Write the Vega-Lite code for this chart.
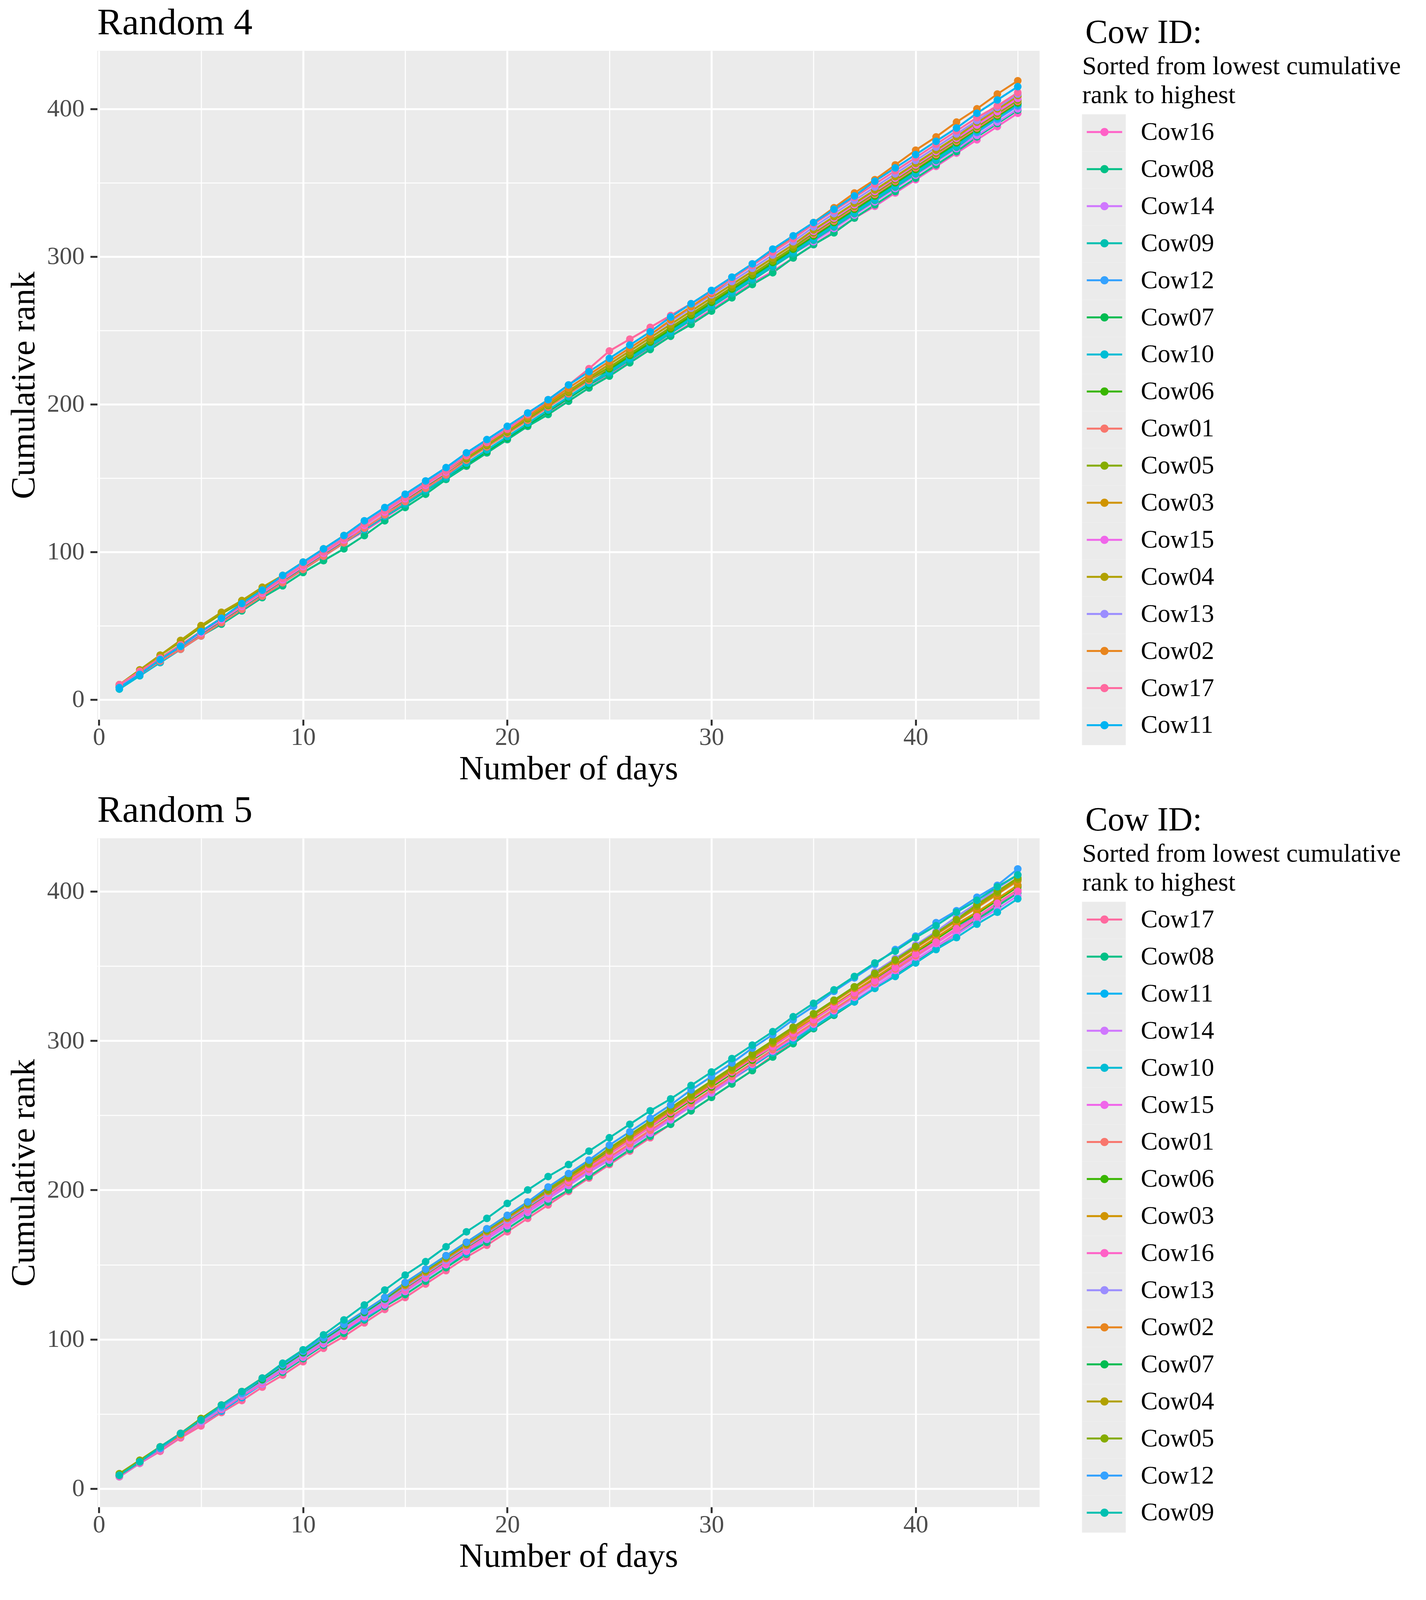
{
  "$schema": "https://vega.github.io/schema/vega-lite/v6.json",
  "description": "Cumulative rank of 17 cows over 45 days, two random orderings.",
  "background": "white",
  "padding": {"left": 17, "top": 11, "right": 0, "bottom": 30},
  "config": {
    "font": "Liberation Serif",
    "view": {"fill": "#EBEBEB", "stroke": null},
    "axis": {
      "domain": false, "gridColor": "#FFFFFF", "tickColor": "#333333", "tickSize": 18, "tickWidth": 5,
      "labelColor": "#4D4D4D", "labelFont": "Liberation Serif", "labelFontSize": 64,
      "titleFont": "Liberation Serif", "titleFontSize": 87, "titleFontWeight": "normal", "titleColor": "#000000"
    },
    "legend": {"padding": 0, "titleFont": "Liberation Serif", "labelFont": "Liberation Serif", "titleFontWeight": "normal", "titleColor": "#000000", "labelColor": "#000000"},
    "title": {"font": "Liberation Serif", "fontSize": 96, "fontWeight": "normal", "color": "#000000", "anchor": "start", "frame": "group", "offset": -66}
  },
  "spacing": 15,
  "resolve": {"scale": {"color": "independent", "fill": "independent"}, "legend": {"color": "independent", "fill": "independent"}},
  "datasets": {
    "r4": [
      {"c":"Cow16","d":1,"v":9},{"c":"Cow16","d":2,"v":18},{"c":"Cow16","d":3,"v":27},{"c":"Cow16","d":4,"v":35},{"c":"Cow16","d":5,"v":44},{"c":"Cow16","d":6,"v":53},{"c":"Cow16","d":7,"v":62},{"c":"Cow16","d":8,"v":70},{"c":"Cow16","d":9,"v":79},{"c":"Cow16","d":10,"v":88},{"c":"Cow16","d":11,"v":97},{"c":"Cow16","d":12,"v":106},{"c":"Cow16","d":13,"v":114},{"c":"Cow16","d":14,"v":123},{"c":"Cow16","d":15,"v":132},{"c":"Cow16","d":16,"v":141},{"c":"Cow16","d":17,"v":150},{"c":"Cow16","d":18,"v":158},{"c":"Cow16","d":19,"v":167},{"c":"Cow16","d":20,"v":176},{"c":"Cow16","d":21,"v":185},{"c":"Cow16","d":22,"v":194},{"c":"Cow16","d":23,"v":202},{"c":"Cow16","d":24,"v":211},{"c":"Cow16","d":25,"v":220},{"c":"Cow16","d":26,"v":229},{"c":"Cow16","d":27,"v":238},{"c":"Cow16","d":28,"v":246},{"c":"Cow16","d":29,"v":255},{"c":"Cow16","d":30,"v":264},{"c":"Cow16","d":31,"v":273},{"c":"Cow16","d":32,"v":282},{"c":"Cow16","d":33,"v":290},{"c":"Cow16","d":34,"v":299},{"c":"Cow16","d":35,"v":308},{"c":"Cow16","d":36,"v":317},{"c":"Cow16","d":37,"v":326},{"c":"Cow16","d":38,"v":334},{"c":"Cow16","d":39,"v":343},{"c":"Cow16","d":40,"v":352},{"c":"Cow16","d":41,"v":361},{"c":"Cow16","d":42,"v":370},{"c":"Cow16","d":43,"v":379},{"c":"Cow16","d":44,"v":388},{"c":"Cow16","d":45,"v":397},
      {"c":"Cow08","d":1,"v":8},{"c":"Cow08","d":2,"v":17},{"c":"Cow08","d":3,"v":25},{"c":"Cow08","d":4,"v":34},{"c":"Cow08","d":5,"v":43},{"c":"Cow08","d":6,"v":51},{"c":"Cow08","d":7,"v":60},{"c":"Cow08","d":8,"v":69},{"c":"Cow08","d":9,"v":77},{"c":"Cow08","d":10,"v":86},{"c":"Cow08","d":11,"v":94},{"c":"Cow08","d":12,"v":102},{"c":"Cow08","d":13,"v":111},{"c":"Cow08","d":14,"v":121},{"c":"Cow08","d":15,"v":130},{"c":"Cow08","d":16,"v":139},{"c":"Cow08","d":17,"v":149},{"c":"Cow08","d":18,"v":158},{"c":"Cow08","d":19,"v":167},{"c":"Cow08","d":20,"v":176},{"c":"Cow08","d":21,"v":185},{"c":"Cow08","d":22,"v":193},{"c":"Cow08","d":23,"v":202},{"c":"Cow08","d":24,"v":211},{"c":"Cow08","d":25,"v":219},{"c":"Cow08","d":26,"v":228},{"c":"Cow08","d":27,"v":237},{"c":"Cow08","d":28,"v":246},{"c":"Cow08","d":29,"v":254},{"c":"Cow08","d":30,"v":263},{"c":"Cow08","d":31,"v":272},{"c":"Cow08","d":32,"v":281},{"c":"Cow08","d":33,"v":289},{"c":"Cow08","d":34,"v":299},{"c":"Cow08","d":35,"v":308},{"c":"Cow08","d":36,"v":316},{"c":"Cow08","d":37,"v":326},{"c":"Cow08","d":38,"v":335},{"c":"Cow08","d":39,"v":344},{"c":"Cow08","d":40,"v":353},{"c":"Cow08","d":41,"v":362},{"c":"Cow08","d":42,"v":371},{"c":"Cow08","d":43,"v":381},{"c":"Cow08","d":44,"v":390},{"c":"Cow08","d":45,"v":399},
      {"c":"Cow14","d":1,"v":9},{"c":"Cow14","d":2,"v":18},{"c":"Cow14","d":3,"v":27},{"c":"Cow14","d":4,"v":36},{"c":"Cow14","d":5,"v":45},{"c":"Cow14","d":6,"v":54},{"c":"Cow14","d":7,"v":63},{"c":"Cow14","d":8,"v":72},{"c":"Cow14","d":9,"v":81},{"c":"Cow14","d":10,"v":90},{"c":"Cow14","d":11,"v":99},{"c":"Cow14","d":12,"v":108},{"c":"Cow14","d":13,"v":116},{"c":"Cow14","d":14,"v":125},{"c":"Cow14","d":15,"v":134},{"c":"Cow14","d":16,"v":143},{"c":"Cow14","d":17,"v":152},{"c":"Cow14","d":18,"v":160},{"c":"Cow14","d":19,"v":169},{"c":"Cow14","d":20,"v":178},{"c":"Cow14","d":21,"v":187},{"c":"Cow14","d":22,"v":196},{"c":"Cow14","d":23,"v":204},{"c":"Cow14","d":24,"v":213},{"c":"Cow14","d":25,"v":222},{"c":"Cow14","d":26,"v":231},{"c":"Cow14","d":27,"v":240},{"c":"Cow14","d":28,"v":248},{"c":"Cow14","d":29,"v":257},{"c":"Cow14","d":30,"v":266},{"c":"Cow14","d":31,"v":275},{"c":"Cow14","d":32,"v":284},{"c":"Cow14","d":33,"v":293},{"c":"Cow14","d":34,"v":302},{"c":"Cow14","d":35,"v":310},{"c":"Cow14","d":36,"v":319},{"c":"Cow14","d":37,"v":328},{"c":"Cow14","d":38,"v":337},{"c":"Cow14","d":39,"v":346},{"c":"Cow14","d":40,"v":355},{"c":"Cow14","d":41,"v":364},{"c":"Cow14","d":42,"v":373},{"c":"Cow14","d":43,"v":382},{"c":"Cow14","d":44,"v":391},{"c":"Cow14","d":45,"v":400},
      {"c":"Cow09","d":1,"v":8},{"c":"Cow09","d":2,"v":17},{"c":"Cow09","d":3,"v":26},{"c":"Cow09","d":4,"v":35},{"c":"Cow09","d":5,"v":44},{"c":"Cow09","d":6,"v":52},{"c":"Cow09","d":7,"v":61},{"c":"Cow09","d":8,"v":70},{"c":"Cow09","d":9,"v":79},{"c":"Cow09","d":10,"v":88},{"c":"Cow09","d":11,"v":97},{"c":"Cow09","d":12,"v":106},{"c":"Cow09","d":13,"v":115},{"c":"Cow09","d":14,"v":124},{"c":"Cow09","d":15,"v":132},{"c":"Cow09","d":16,"v":141},{"c":"Cow09","d":17,"v":150},{"c":"Cow09","d":18,"v":159},{"c":"Cow09","d":19,"v":168},{"c":"Cow09","d":20,"v":177},{"c":"Cow09","d":21,"v":186},{"c":"Cow09","d":22,"v":195},{"c":"Cow09","d":23,"v":204},{"c":"Cow09","d":24,"v":213},{"c":"Cow09","d":25,"v":221},{"c":"Cow09","d":26,"v":230},{"c":"Cow09","d":27,"v":239},{"c":"Cow09","d":28,"v":248},{"c":"Cow09","d":29,"v":257},{"c":"Cow09","d":30,"v":266},{"c":"Cow09","d":31,"v":275},{"c":"Cow09","d":32,"v":284},{"c":"Cow09","d":33,"v":293},{"c":"Cow09","d":34,"v":302},{"c":"Cow09","d":35,"v":311},{"c":"Cow09","d":36,"v":320},{"c":"Cow09","d":37,"v":329},{"c":"Cow09","d":38,"v":338},{"c":"Cow09","d":39,"v":347},{"c":"Cow09","d":40,"v":356},{"c":"Cow09","d":41,"v":365},{"c":"Cow09","d":42,"v":374},{"c":"Cow09","d":43,"v":384},{"c":"Cow09","d":44,"v":393},{"c":"Cow09","d":45,"v":402},
      {"c":"Cow12","d":1,"v":8},{"c":"Cow12","d":2,"v":17},{"c":"Cow12","d":3,"v":26},{"c":"Cow12","d":4,"v":36},{"c":"Cow12","d":5,"v":45},{"c":"Cow12","d":6,"v":54},{"c":"Cow12","d":7,"v":63},{"c":"Cow12","d":8,"v":73},{"c":"Cow12","d":9,"v":82},{"c":"Cow12","d":10,"v":91},{"c":"Cow12","d":11,"v":100},{"c":"Cow12","d":12,"v":109},{"c":"Cow12","d":13,"v":118},{"c":"Cow12","d":14,"v":127},{"c":"Cow12","d":15,"v":136},{"c":"Cow12","d":16,"v":145},{"c":"Cow12","d":17,"v":154},{"c":"Cow12","d":18,"v":163},{"c":"Cow12","d":19,"v":172},{"c":"Cow12","d":20,"v":181},{"c":"Cow12","d":21,"v":190},{"c":"Cow12","d":22,"v":198},{"c":"Cow12","d":23,"v":207},{"c":"Cow12","d":24,"v":216},{"c":"Cow12","d":25,"v":224},{"c":"Cow12","d":26,"v":233},{"c":"Cow12","d":27,"v":242},{"c":"Cow12","d":28,"v":251},{"c":"Cow12","d":29,"v":259},{"c":"Cow12","d":30,"v":268},{"c":"Cow12","d":31,"v":277},{"c":"Cow12","d":32,"v":286},{"c":"Cow12","d":33,"v":295},{"c":"Cow12","d":34,"v":304},{"c":"Cow12","d":35,"v":312},{"c":"Cow12","d":36,"v":321},{"c":"Cow12","d":37,"v":330},{"c":"Cow12","d":38,"v":339},{"c":"Cow12","d":39,"v":348},{"c":"Cow12","d":40,"v":357},{"c":"Cow12","d":41,"v":366},{"c":"Cow12","d":42,"v":375},{"c":"Cow12","d":43,"v":384},{"c":"Cow12","d":44,"v":393},{"c":"Cow12","d":45,"v":402},
      {"c":"Cow07","d":1,"v":9},{"c":"Cow07","d":2,"v":18},{"c":"Cow07","d":3,"v":27},{"c":"Cow07","d":4,"v":36},{"c":"Cow07","d":5,"v":45},{"c":"Cow07","d":6,"v":53},{"c":"Cow07","d":7,"v":62},{"c":"Cow07","d":8,"v":71},{"c":"Cow07","d":9,"v":80},{"c":"Cow07","d":10,"v":89},{"c":"Cow07","d":11,"v":98},{"c":"Cow07","d":12,"v":107},{"c":"Cow07","d":13,"v":115},{"c":"Cow07","d":14,"v":124},{"c":"Cow07","d":15,"v":133},{"c":"Cow07","d":16,"v":142},{"c":"Cow07","d":17,"v":151},{"c":"Cow07","d":18,"v":159},{"c":"Cow07","d":19,"v":168},{"c":"Cow07","d":20,"v":177},{"c":"Cow07","d":21,"v":186},{"c":"Cow07","d":22,"v":195},{"c":"Cow07","d":23,"v":204},{"c":"Cow07","d":24,"v":213},{"c":"Cow07","d":25,"v":223},{"c":"Cow07","d":26,"v":232},{"c":"Cow07","d":27,"v":241},{"c":"Cow07","d":28,"v":250},{"c":"Cow07","d":29,"v":259},{"c":"Cow07","d":30,"v":268},{"c":"Cow07","d":31,"v":277},{"c":"Cow07","d":32,"v":286},{"c":"Cow07","d":33,"v":295},{"c":"Cow07","d":34,"v":304},{"c":"Cow07","d":35,"v":313},{"c":"Cow07","d":36,"v":322},{"c":"Cow07","d":37,"v":331},{"c":"Cow07","d":38,"v":340},{"c":"Cow07","d":39,"v":349},{"c":"Cow07","d":40,"v":358},{"c":"Cow07","d":41,"v":367},{"c":"Cow07","d":42,"v":376},{"c":"Cow07","d":43,"v":386},{"c":"Cow07","d":44,"v":395},{"c":"Cow07","d":45,"v":404},
      {"c":"Cow10","d":1,"v":7},{"c":"Cow10","d":2,"v":16},{"c":"Cow10","d":3,"v":25},{"c":"Cow10","d":4,"v":34},{"c":"Cow10","d":5,"v":43},{"c":"Cow10","d":6,"v":52},{"c":"Cow10","d":7,"v":61},{"c":"Cow10","d":8,"v":70},{"c":"Cow10","d":9,"v":79},{"c":"Cow10","d":10,"v":88},{"c":"Cow10","d":11,"v":97},{"c":"Cow10","d":12,"v":106},{"c":"Cow10","d":13,"v":115},{"c":"Cow10","d":14,"v":124},{"c":"Cow10","d":15,"v":133},{"c":"Cow10","d":16,"v":142},{"c":"Cow10","d":17,"v":151},{"c":"Cow10","d":18,"v":160},{"c":"Cow10","d":19,"v":169},{"c":"Cow10","d":20,"v":178},{"c":"Cow10","d":21,"v":187},{"c":"Cow10","d":22,"v":196},{"c":"Cow10","d":23,"v":205},{"c":"Cow10","d":24,"v":214},{"c":"Cow10","d":25,"v":222},{"c":"Cow10","d":26,"v":231},{"c":"Cow10","d":27,"v":240},{"c":"Cow10","d":28,"v":249},{"c":"Cow10","d":29,"v":258},{"c":"Cow10","d":30,"v":267},{"c":"Cow10","d":31,"v":276},{"c":"Cow10","d":32,"v":285},{"c":"Cow10","d":33,"v":294},{"c":"Cow10","d":34,"v":303},{"c":"Cow10","d":35,"v":312},{"c":"Cow10","d":36,"v":321},{"c":"Cow10","d":37,"v":330},{"c":"Cow10","d":38,"v":339},{"c":"Cow10","d":39,"v":348},{"c":"Cow10","d":40,"v":357},{"c":"Cow10","d":41,"v":366},{"c":"Cow10","d":42,"v":375},{"c":"Cow10","d":43,"v":385},{"c":"Cow10","d":44,"v":394},{"c":"Cow10","d":45,"v":403},
      {"c":"Cow06","d":1,"v":10},{"c":"Cow06","d":2,"v":19},{"c":"Cow06","d":3,"v":28},{"c":"Cow06","d":4,"v":37},{"c":"Cow06","d":5,"v":46},{"c":"Cow06","d":6,"v":55},{"c":"Cow06","d":7,"v":64},{"c":"Cow06","d":8,"v":73},{"c":"Cow06","d":9,"v":82},{"c":"Cow06","d":10,"v":91},{"c":"Cow06","d":11,"v":100},{"c":"Cow06","d":12,"v":109},{"c":"Cow06","d":13,"v":118},{"c":"Cow06","d":14,"v":127},{"c":"Cow06","d":15,"v":135},{"c":"Cow06","d":16,"v":144},{"c":"Cow06","d":17,"v":153},{"c":"Cow06","d":18,"v":162},{"c":"Cow06","d":19,"v":171},{"c":"Cow06","d":20,"v":180},{"c":"Cow06","d":21,"v":189},{"c":"Cow06","d":22,"v":198},{"c":"Cow06","d":23,"v":207},{"c":"Cow06","d":24,"v":216},{"c":"Cow06","d":25,"v":224},{"c":"Cow06","d":26,"v":233},{"c":"Cow06","d":27,"v":242},{"c":"Cow06","d":28,"v":251},{"c":"Cow06","d":29,"v":260},{"c":"Cow06","d":30,"v":269},{"c":"Cow06","d":31,"v":278},{"c":"Cow06","d":32,"v":287},{"c":"Cow06","d":33,"v":296},{"c":"Cow06","d":34,"v":305},{"c":"Cow06","d":35,"v":314},{"c":"Cow06","d":36,"v":323},{"c":"Cow06","d":37,"v":332},{"c":"Cow06","d":38,"v":341},{"c":"Cow06","d":39,"v":350},{"c":"Cow06","d":40,"v":359},{"c":"Cow06","d":41,"v":368},{"c":"Cow06","d":42,"v":377},{"c":"Cow06","d":43,"v":386},{"c":"Cow06","d":44,"v":395},{"c":"Cow06","d":45,"v":404},
      {"c":"Cow01","d":1,"v":9},{"c":"Cow01","d":2,"v":17},{"c":"Cow01","d":3,"v":26},{"c":"Cow01","d":4,"v":34},{"c":"Cow01","d":5,"v":43},{"c":"Cow01","d":6,"v":52},{"c":"Cow01","d":7,"v":61},{"c":"Cow01","d":8,"v":70},{"c":"Cow01","d":9,"v":79},{"c":"Cow01","d":10,"v":88},{"c":"Cow01","d":11,"v":97},{"c":"Cow01","d":12,"v":106},{"c":"Cow01","d":13,"v":116},{"c":"Cow01","d":14,"v":125},{"c":"Cow01","d":15,"v":134},{"c":"Cow01","d":16,"v":143},{"c":"Cow01","d":17,"v":152},{"c":"Cow01","d":18,"v":162},{"c":"Cow01","d":19,"v":171},{"c":"Cow01","d":20,"v":180},{"c":"Cow01","d":21,"v":189},{"c":"Cow01","d":22,"v":198},{"c":"Cow01","d":23,"v":207},{"c":"Cow01","d":24,"v":216},{"c":"Cow01","d":25,"v":225},{"c":"Cow01","d":26,"v":234},{"c":"Cow01","d":27,"v":243},{"c":"Cow01","d":28,"v":252},{"c":"Cow01","d":29,"v":261},{"c":"Cow01","d":30,"v":270},{"c":"Cow01","d":31,"v":279},{"c":"Cow01","d":32,"v":288},{"c":"Cow01","d":33,"v":297},{"c":"Cow01","d":34,"v":306},{"c":"Cow01","d":35,"v":315},{"c":"Cow01","d":36,"v":324},{"c":"Cow01","d":37,"v":333},{"c":"Cow01","d":38,"v":342},{"c":"Cow01","d":39,"v":351},{"c":"Cow01","d":40,"v":360},{"c":"Cow01","d":41,"v":369},{"c":"Cow01","d":42,"v":378},{"c":"Cow01","d":43,"v":387},{"c":"Cow01","d":44,"v":396},{"c":"Cow01","d":45,"v":405},
      {"c":"Cow05","d":1,"v":10},{"c":"Cow05","d":2,"v":20},{"c":"Cow05","d":3,"v":30},{"c":"Cow05","d":4,"v":39},{"c":"Cow05","d":5,"v":49},{"c":"Cow05","d":6,"v":58},{"c":"Cow05","d":7,"v":66},{"c":"Cow05","d":8,"v":75},{"c":"Cow05","d":9,"v":83},{"c":"Cow05","d":10,"v":92},{"c":"Cow05","d":11,"v":101},{"c":"Cow05","d":12,"v":110},{"c":"Cow05","d":13,"v":119},{"c":"Cow05","d":14,"v":128},{"c":"Cow05","d":15,"v":136},{"c":"Cow05","d":16,"v":145},{"c":"Cow05","d":17,"v":154},{"c":"Cow05","d":18,"v":163},{"c":"Cow05","d":19,"v":172},{"c":"Cow05","d":20,"v":181},{"c":"Cow05","d":21,"v":190},{"c":"Cow05","d":22,"v":199},{"c":"Cow05","d":23,"v":208},{"c":"Cow05","d":24,"v":217},{"c":"Cow05","d":25,"v":225},{"c":"Cow05","d":26,"v":234},{"c":"Cow05","d":27,"v":243},{"c":"Cow05","d":28,"v":252},{"c":"Cow05","d":29,"v":261},{"c":"Cow05","d":30,"v":270},{"c":"Cow05","d":31,"v":279},{"c":"Cow05","d":32,"v":288},{"c":"Cow05","d":33,"v":297},{"c":"Cow05","d":34,"v":306},{"c":"Cow05","d":35,"v":316},{"c":"Cow05","d":36,"v":325},{"c":"Cow05","d":37,"v":334},{"c":"Cow05","d":38,"v":343},{"c":"Cow05","d":39,"v":352},{"c":"Cow05","d":40,"v":361},{"c":"Cow05","d":41,"v":370},{"c":"Cow05","d":42,"v":379},{"c":"Cow05","d":43,"v":388},{"c":"Cow05","d":44,"v":397},{"c":"Cow05","d":45,"v":406},
      {"c":"Cow03","d":1,"v":9},{"c":"Cow03","d":2,"v":18},{"c":"Cow03","d":3,"v":27},{"c":"Cow03","d":4,"v":36},{"c":"Cow03","d":5,"v":45},{"c":"Cow03","d":6,"v":55},{"c":"Cow03","d":7,"v":64},{"c":"Cow03","d":8,"v":73},{"c":"Cow03","d":9,"v":82},{"c":"Cow03","d":10,"v":91},{"c":"Cow03","d":11,"v":100},{"c":"Cow03","d":12,"v":109},{"c":"Cow03","d":13,"v":118},{"c":"Cow03","d":14,"v":127},{"c":"Cow03","d":15,"v":137},{"c":"Cow03","d":16,"v":146},{"c":"Cow03","d":17,"v":155},{"c":"Cow03","d":18,"v":164},{"c":"Cow03","d":19,"v":173},{"c":"Cow03","d":20,"v":182},{"c":"Cow03","d":21,"v":191},{"c":"Cow03","d":22,"v":200},{"c":"Cow03","d":23,"v":209},{"c":"Cow03","d":24,"v":218},{"c":"Cow03","d":25,"v":227},{"c":"Cow03","d":26,"v":236},{"c":"Cow03","d":27,"v":245},{"c":"Cow03","d":28,"v":254},{"c":"Cow03","d":29,"v":263},{"c":"Cow03","d":30,"v":272},{"c":"Cow03","d":31,"v":281},{"c":"Cow03","d":32,"v":290},{"c":"Cow03","d":33,"v":299},{"c":"Cow03","d":34,"v":308},{"c":"Cow03","d":35,"v":318},{"c":"Cow03","d":36,"v":327},{"c":"Cow03","d":37,"v":336},{"c":"Cow03","d":38,"v":345},{"c":"Cow03","d":39,"v":354},{"c":"Cow03","d":40,"v":363},{"c":"Cow03","d":41,"v":372},{"c":"Cow03","d":42,"v":381},{"c":"Cow03","d":43,"v":390},{"c":"Cow03","d":44,"v":399},{"c":"Cow03","d":45,"v":408},
      {"c":"Cow15","d":1,"v":9},{"c":"Cow15","d":2,"v":18},{"c":"Cow15","d":3,"v":27},{"c":"Cow15","d":4,"v":36},{"c":"Cow15","d":5,"v":45},{"c":"Cow15","d":6,"v":54},{"c":"Cow15","d":7,"v":63},{"c":"Cow15","d":8,"v":72},{"c":"Cow15","d":9,"v":81},{"c":"Cow15","d":10,"v":90},{"c":"Cow15","d":11,"v":99},{"c":"Cow15","d":12,"v":108},{"c":"Cow15","d":13,"v":118},{"c":"Cow15","d":14,"v":127},{"c":"Cow15","d":15,"v":136},{"c":"Cow15","d":16,"v":145},{"c":"Cow15","d":17,"v":154},{"c":"Cow15","d":18,"v":164},{"c":"Cow15","d":19,"v":173},{"c":"Cow15","d":20,"v":182},{"c":"Cow15","d":21,"v":191},{"c":"Cow15","d":22,"v":200},{"c":"Cow15","d":23,"v":209},{"c":"Cow15","d":24,"v":218},{"c":"Cow15","d":25,"v":227},{"c":"Cow15","d":26,"v":236},{"c":"Cow15","d":27,"v":245},{"c":"Cow15","d":28,"v":254},{"c":"Cow15","d":29,"v":263},{"c":"Cow15","d":30,"v":272},{"c":"Cow15","d":31,"v":281},{"c":"Cow15","d":32,"v":290},{"c":"Cow15","d":33,"v":299},{"c":"Cow15","d":34,"v":308},{"c":"Cow15","d":35,"v":317},{"c":"Cow15","d":36,"v":326},{"c":"Cow15","d":37,"v":335},{"c":"Cow15","d":38,"v":344},{"c":"Cow15","d":39,"v":353},{"c":"Cow15","d":40,"v":362},{"c":"Cow15","d":41,"v":371},{"c":"Cow15","d":42,"v":380},{"c":"Cow15","d":43,"v":389},{"c":"Cow15","d":44,"v":398},{"c":"Cow15","d":45,"v":407},
      {"c":"Cow04","d":1,"v":10},{"c":"Cow04","d":2,"v":20},{"c":"Cow04","d":3,"v":30},{"c":"Cow04","d":4,"v":40},{"c":"Cow04","d":5,"v":50},{"c":"Cow04","d":6,"v":59},{"c":"Cow04","d":7,"v":67},{"c":"Cow04","d":8,"v":76},{"c":"Cow04","d":9,"v":84},{"c":"Cow04","d":10,"v":93},{"c":"Cow04","d":11,"v":102},{"c":"Cow04","d":12,"v":111},{"c":"Cow04","d":13,"v":120},{"c":"Cow04","d":14,"v":129},{"c":"Cow04","d":15,"v":137},{"c":"Cow04","d":16,"v":146},{"c":"Cow04","d":17,"v":155},{"c":"Cow04","d":18,"v":164},{"c":"Cow04","d":19,"v":173},{"c":"Cow04","d":20,"v":182},{"c":"Cow04","d":21,"v":191},{"c":"Cow04","d":22,"v":200},{"c":"Cow04","d":23,"v":209},{"c":"Cow04","d":24,"v":218},{"c":"Cow04","d":25,"v":227},{"c":"Cow04","d":26,"v":236},{"c":"Cow04","d":27,"v":245},{"c":"Cow04","d":28,"v":254},{"c":"Cow04","d":29,"v":263},{"c":"Cow04","d":30,"v":272},{"c":"Cow04","d":31,"v":281},{"c":"Cow04","d":32,"v":290},{"c":"Cow04","d":33,"v":299},{"c":"Cow04","d":34,"v":308},{"c":"Cow04","d":35,"v":318},{"c":"Cow04","d":36,"v":327},{"c":"Cow04","d":37,"v":336},{"c":"Cow04","d":38,"v":345},{"c":"Cow04","d":39,"v":354},{"c":"Cow04","d":40,"v":363},{"c":"Cow04","d":41,"v":372},{"c":"Cow04","d":42,"v":381},{"c":"Cow04","d":43,"v":391},{"c":"Cow04","d":44,"v":400},{"c":"Cow04","d":45,"v":409},
      {"c":"Cow13","d":1,"v":9},{"c":"Cow13","d":2,"v":18},{"c":"Cow13","d":3,"v":27},{"c":"Cow13","d":4,"v":37},{"c":"Cow13","d":5,"v":46},{"c":"Cow13","d":6,"v":55},{"c":"Cow13","d":7,"v":64},{"c":"Cow13","d":8,"v":74},{"c":"Cow13","d":9,"v":83},{"c":"Cow13","d":10,"v":92},{"c":"Cow13","d":11,"v":101},{"c":"Cow13","d":12,"v":110},{"c":"Cow13","d":13,"v":120},{"c":"Cow13","d":14,"v":129},{"c":"Cow13","d":15,"v":138},{"c":"Cow13","d":16,"v":147},{"c":"Cow13","d":17,"v":156},{"c":"Cow13","d":18,"v":166},{"c":"Cow13","d":19,"v":175},{"c":"Cow13","d":20,"v":184},{"c":"Cow13","d":21,"v":193},{"c":"Cow13","d":22,"v":202},{"c":"Cow13","d":23,"v":211},{"c":"Cow13","d":24,"v":220},{"c":"Cow13","d":25,"v":229},{"c":"Cow13","d":26,"v":238},{"c":"Cow13","d":27,"v":247},{"c":"Cow13","d":28,"v":256},{"c":"Cow13","d":29,"v":265},{"c":"Cow13","d":30,"v":274},{"c":"Cow13","d":31,"v":283},{"c":"Cow13","d":32,"v":292},{"c":"Cow13","d":33,"v":301},{"c":"Cow13","d":34,"v":310},{"c":"Cow13","d":35,"v":320},{"c":"Cow13","d":36,"v":329},{"c":"Cow13","d":37,"v":338},{"c":"Cow13","d":38,"v":347},{"c":"Cow13","d":39,"v":356},{"c":"Cow13","d":40,"v":365},{"c":"Cow13","d":41,"v":374},{"c":"Cow13","d":42,"v":383},{"c":"Cow13","d":43,"v":392},{"c":"Cow13","d":44,"v":401},{"c":"Cow13","d":45,"v":410},
      {"c":"Cow02","d":1,"v":10},{"c":"Cow02","d":2,"v":19},{"c":"Cow02","d":3,"v":28},{"c":"Cow02","d":4,"v":37},{"c":"Cow02","d":5,"v":46},{"c":"Cow02","d":6,"v":55},{"c":"Cow02","d":7,"v":64},{"c":"Cow02","d":8,"v":73},{"c":"Cow02","d":9,"v":82},{"c":"Cow02","d":10,"v":91},{"c":"Cow02","d":11,"v":100},{"c":"Cow02","d":12,"v":109},{"c":"Cow02","d":13,"v":119},{"c":"Cow02","d":14,"v":128},{"c":"Cow02","d":15,"v":137},{"c":"Cow02","d":16,"v":146},{"c":"Cow02","d":17,"v":155},{"c":"Cow02","d":18,"v":165},{"c":"Cow02","d":19,"v":174},{"c":"Cow02","d":20,"v":183},{"c":"Cow02","d":21,"v":192},{"c":"Cow02","d":22,"v":201},{"c":"Cow02","d":23,"v":211},{"c":"Cow02","d":24,"v":220},{"c":"Cow02","d":25,"v":229},{"c":"Cow02","d":26,"v":238},{"c":"Cow02","d":27,"v":247},{"c":"Cow02","d":28,"v":257},{"c":"Cow02","d":29,"v":266},{"c":"Cow02","d":30,"v":275},{"c":"Cow02","d":31,"v":285},{"c":"Cow02","d":32,"v":294},{"c":"Cow02","d":33,"v":304},{"c":"Cow02","d":34,"v":313},{"c":"Cow02","d":35,"v":323},{"c":"Cow02","d":36,"v":333},{"c":"Cow02","d":37,"v":343},{"c":"Cow02","d":38,"v":352},{"c":"Cow02","d":39,"v":362},{"c":"Cow02","d":40,"v":372},{"c":"Cow02","d":41,"v":381},{"c":"Cow02","d":42,"v":391},{"c":"Cow02","d":43,"v":400},{"c":"Cow02","d":44,"v":410},{"c":"Cow02","d":45,"v":419},
      {"c":"Cow17","d":1,"v":10},{"c":"Cow17","d":2,"v":19},{"c":"Cow17","d":3,"v":28},{"c":"Cow17","d":4,"v":37},{"c":"Cow17","d":5,"v":46},{"c":"Cow17","d":6,"v":55},{"c":"Cow17","d":7,"v":64},{"c":"Cow17","d":8,"v":73},{"c":"Cow17","d":9,"v":82},{"c":"Cow17","d":10,"v":91},{"c":"Cow17","d":11,"v":100},{"c":"Cow17","d":12,"v":109},{"c":"Cow17","d":13,"v":119},{"c":"Cow17","d":14,"v":128},{"c":"Cow17","d":15,"v":137},{"c":"Cow17","d":16,"v":146},{"c":"Cow17","d":17,"v":155},{"c":"Cow17","d":18,"v":165},{"c":"Cow17","d":19,"v":174},{"c":"Cow17","d":20,"v":183},{"c":"Cow17","d":21,"v":193},{"c":"Cow17","d":22,"v":203},{"c":"Cow17","d":23,"v":213},{"c":"Cow17","d":24,"v":224},{"c":"Cow17","d":25,"v":236},{"c":"Cow17","d":26,"v":244},{"c":"Cow17","d":27,"v":252},{"c":"Cow17","d":28,"v":260},{"c":"Cow17","d":29,"v":268},{"c":"Cow17","d":30,"v":276},{"c":"Cow17","d":31,"v":285},{"c":"Cow17","d":32,"v":294},{"c":"Cow17","d":33,"v":303},{"c":"Cow17","d":34,"v":312},{"c":"Cow17","d":35,"v":322},{"c":"Cow17","d":36,"v":331},{"c":"Cow17","d":37,"v":340},{"c":"Cow17","d":38,"v":349},{"c":"Cow17","d":39,"v":358},{"c":"Cow17","d":40,"v":367},{"c":"Cow17","d":41,"v":376},{"c":"Cow17","d":42,"v":385},{"c":"Cow17","d":43,"v":394},{"c":"Cow17","d":44,"v":402},{"c":"Cow17","d":45,"v":411},
      {"c":"Cow11","d":1,"v":8},{"c":"Cow11","d":2,"v":17},{"c":"Cow11","d":3,"v":27},{"c":"Cow11","d":4,"v":36},{"c":"Cow11","d":5,"v":46},{"c":"Cow11","d":6,"v":55},{"c":"Cow11","d":7,"v":65},{"c":"Cow11","d":8,"v":74},{"c":"Cow11","d":9,"v":84},{"c":"Cow11","d":10,"v":93},{"c":"Cow11","d":11,"v":102},{"c":"Cow11","d":12,"v":111},{"c":"Cow11","d":13,"v":121},{"c":"Cow11","d":14,"v":130},{"c":"Cow11","d":15,"v":139},{"c":"Cow11","d":16,"v":148},{"c":"Cow11","d":17,"v":157},{"c":"Cow11","d":18,"v":167},{"c":"Cow11","d":19,"v":176},{"c":"Cow11","d":20,"v":185},{"c":"Cow11","d":21,"v":194},{"c":"Cow11","d":22,"v":203},{"c":"Cow11","d":23,"v":213},{"c":"Cow11","d":24,"v":222},{"c":"Cow11","d":25,"v":231},{"c":"Cow11","d":26,"v":240},{"c":"Cow11","d":27,"v":249},{"c":"Cow11","d":28,"v":259},{"c":"Cow11","d":29,"v":268},{"c":"Cow11","d":30,"v":277},{"c":"Cow11","d":31,"v":286},{"c":"Cow11","d":32,"v":295},{"c":"Cow11","d":33,"v":305},{"c":"Cow11","d":34,"v":314},{"c":"Cow11","d":35,"v":323},{"c":"Cow11","d":36,"v":332},{"c":"Cow11","d":37,"v":341},{"c":"Cow11","d":38,"v":351},{"c":"Cow11","d":39,"v":360},{"c":"Cow11","d":40,"v":369},{"c":"Cow11","d":41,"v":378},{"c":"Cow11","d":42,"v":387},{"c":"Cow11","d":43,"v":397},{"c":"Cow11","d":44,"v":406},{"c":"Cow11","d":45,"v":415}
    ],
    "r5": [
      {"c":"Cow17","d":1,"v":8},{"c":"Cow17","d":2,"v":17},{"c":"Cow17","d":3,"v":25},{"c":"Cow17","d":4,"v":34},{"c":"Cow17","d":5,"v":42},{"c":"Cow17","d":6,"v":51},{"c":"Cow17","d":7,"v":59},{"c":"Cow17","d":8,"v":68},{"c":"Cow17","d":9,"v":76},{"c":"Cow17","d":10,"v":85},{"c":"Cow17","d":11,"v":94},{"c":"Cow17","d":12,"v":102},{"c":"Cow17","d":13,"v":111},{"c":"Cow17","d":14,"v":120},{"c":"Cow17","d":15,"v":128},{"c":"Cow17","d":16,"v":137},{"c":"Cow17","d":17,"v":146},{"c":"Cow17","d":18,"v":155},{"c":"Cow17","d":19,"v":163},{"c":"Cow17","d":20,"v":172},{"c":"Cow17","d":21,"v":181},{"c":"Cow17","d":22,"v":190},{"c":"Cow17","d":23,"v":199},{"c":"Cow17","d":24,"v":208},{"c":"Cow17","d":25,"v":217},{"c":"Cow17","d":26,"v":226},{"c":"Cow17","d":27,"v":235},{"c":"Cow17","d":28,"v":244},{"c":"Cow17","d":29,"v":253},{"c":"Cow17","d":30,"v":262},{"c":"Cow17","d":31,"v":271},{"c":"Cow17","d":32,"v":280},{"c":"Cow17","d":33,"v":290},{"c":"Cow17","d":34,"v":299},{"c":"Cow17","d":35,"v":308},{"c":"Cow17","d":36,"v":317},{"c":"Cow17","d":37,"v":326},{"c":"Cow17","d":38,"v":336},{"c":"Cow17","d":39,"v":345},{"c":"Cow17","d":40,"v":354},{"c":"Cow17","d":41,"v":363},{"c":"Cow17","d":42,"v":372},{"c":"Cow17","d":43,"v":382},{"c":"Cow17","d":44,"v":391},{"c":"Cow17","d":45,"v":400},
      {"c":"Cow08","d":1,"v":9},{"c":"Cow08","d":2,"v":18},{"c":"Cow08","d":3,"v":26},{"c":"Cow08","d":4,"v":35},{"c":"Cow08","d":5,"v":44},{"c":"Cow08","d":6,"v":52},{"c":"Cow08","d":7,"v":61},{"c":"Cow08","d":8,"v":70},{"c":"Cow08","d":9,"v":78},{"c":"Cow08","d":10,"v":87},{"c":"Cow08","d":11,"v":96},{"c":"Cow08","d":12,"v":104},{"c":"Cow08","d":13,"v":113},{"c":"Cow08","d":14,"v":122},{"c":"Cow08","d":15,"v":130},{"c":"Cow08","d":16,"v":139},{"c":"Cow08","d":17,"v":148},{"c":"Cow08","d":18,"v":157},{"c":"Cow08","d":19,"v":165},{"c":"Cow08","d":20,"v":174},{"c":"Cow08","d":21,"v":183},{"c":"Cow08","d":22,"v":192},{"c":"Cow08","d":23,"v":200},{"c":"Cow08","d":24,"v":209},{"c":"Cow08","d":25,"v":218},{"c":"Cow08","d":26,"v":227},{"c":"Cow08","d":27,"v":236},{"c":"Cow08","d":28,"v":244},{"c":"Cow08","d":29,"v":253},{"c":"Cow08","d":30,"v":262},{"c":"Cow08","d":31,"v":271},{"c":"Cow08","d":32,"v":280},{"c":"Cow08","d":33,"v":289},{"c":"Cow08","d":34,"v":298},{"c":"Cow08","d":35,"v":308},{"c":"Cow08","d":36,"v":317},{"c":"Cow08","d":37,"v":326},{"c":"Cow08","d":38,"v":335},{"c":"Cow08","d":39,"v":344},{"c":"Cow08","d":40,"v":353},{"c":"Cow08","d":41,"v":362},{"c":"Cow08","d":42,"v":371},{"c":"Cow08","d":43,"v":381},{"c":"Cow08","d":44,"v":390},{"c":"Cow08","d":45,"v":399},
      {"c":"Cow11","d":1,"v":8},{"c":"Cow11","d":2,"v":17},{"c":"Cow11","d":3,"v":26},{"c":"Cow11","d":4,"v":35},{"c":"Cow11","d":5,"v":44},{"c":"Cow11","d":6,"v":52},{"c":"Cow11","d":7,"v":61},{"c":"Cow11","d":8,"v":70},{"c":"Cow11","d":9,"v":79},{"c":"Cow11","d":10,"v":88},{"c":"Cow11","d":11,"v":97},{"c":"Cow11","d":12,"v":106},{"c":"Cow11","d":13,"v":114},{"c":"Cow11","d":14,"v":123},{"c":"Cow11","d":15,"v":132},{"c":"Cow11","d":16,"v":141},{"c":"Cow11","d":17,"v":150},{"c":"Cow11","d":18,"v":158},{"c":"Cow11","d":19,"v":167},{"c":"Cow11","d":20,"v":176},{"c":"Cow11","d":21,"v":185},{"c":"Cow11","d":22,"v":194},{"c":"Cow11","d":23,"v":203},{"c":"Cow11","d":24,"v":212},{"c":"Cow11","d":25,"v":220},{"c":"Cow11","d":26,"v":229},{"c":"Cow11","d":27,"v":238},{"c":"Cow11","d":28,"v":247},{"c":"Cow11","d":29,"v":256},{"c":"Cow11","d":30,"v":265},{"c":"Cow11","d":31,"v":274},{"c":"Cow11","d":32,"v":283},{"c":"Cow11","d":33,"v":292},{"c":"Cow11","d":34,"v":301},{"c":"Cow11","d":35,"v":311},{"c":"Cow11","d":36,"v":320},{"c":"Cow11","d":37,"v":329},{"c":"Cow11","d":38,"v":338},{"c":"Cow11","d":39,"v":347},{"c":"Cow11","d":40,"v":356},{"c":"Cow11","d":41,"v":366},{"c":"Cow11","d":42,"v":375},{"c":"Cow11","d":43,"v":385},{"c":"Cow11","d":44,"v":394},{"c":"Cow11","d":45,"v":404},
      {"c":"Cow14","d":1,"v":9},{"c":"Cow14","d":2,"v":18},{"c":"Cow14","d":3,"v":27},{"c":"Cow14","d":4,"v":35},{"c":"Cow14","d":5,"v":44},{"c":"Cow14","d":6,"v":53},{"c":"Cow14","d":7,"v":62},{"c":"Cow14","d":8,"v":70},{"c":"Cow14","d":9,"v":79},{"c":"Cow14","d":10,"v":88},{"c":"Cow14","d":11,"v":97},{"c":"Cow14","d":12,"v":106},{"c":"Cow14","d":13,"v":115},{"c":"Cow14","d":14,"v":123},{"c":"Cow14","d":15,"v":132},{"c":"Cow14","d":16,"v":141},{"c":"Cow14","d":17,"v":150},{"c":"Cow14","d":18,"v":159},{"c":"Cow14","d":19,"v":167},{"c":"Cow14","d":20,"v":176},{"c":"Cow14","d":21,"v":185},{"c":"Cow14","d":22,"v":194},{"c":"Cow14","d":23,"v":203},{"c":"Cow14","d":24,"v":212},{"c":"Cow14","d":25,"v":220},{"c":"Cow14","d":26,"v":229},{"c":"Cow14","d":27,"v":238},{"c":"Cow14","d":28,"v":247},{"c":"Cow14","d":29,"v":256},{"c":"Cow14","d":30,"v":265},{"c":"Cow14","d":31,"v":274},{"c":"Cow14","d":32,"v":283},{"c":"Cow14","d":33,"v":292},{"c":"Cow14","d":34,"v":301},{"c":"Cow14","d":35,"v":309},{"c":"Cow14","d":36,"v":318},{"c":"Cow14","d":37,"v":327},{"c":"Cow14","d":38,"v":336},{"c":"Cow14","d":39,"v":345},{"c":"Cow14","d":40,"v":354},{"c":"Cow14","d":41,"v":363},{"c":"Cow14","d":42,"v":371},{"c":"Cow14","d":43,"v":380},{"c":"Cow14","d":44,"v":388},{"c":"Cow14","d":45,"v":397},
      {"c":"Cow10","d":1,"v":8},{"c":"Cow10","d":2,"v":17},{"c":"Cow10","d":3,"v":26},{"c":"Cow10","d":4,"v":35},{"c":"Cow10","d":5,"v":44},{"c":"Cow10","d":6,"v":53},{"c":"Cow10","d":7,"v":62},{"c":"Cow10","d":8,"v":71},{"c":"Cow10","d":9,"v":80},{"c":"Cow10","d":10,"v":89},{"c":"Cow10","d":11,"v":98},{"c":"Cow10","d":12,"v":107},{"c":"Cow10","d":13,"v":115},{"c":"Cow10","d":14,"v":124},{"c":"Cow10","d":15,"v":133},{"c":"Cow10","d":16,"v":142},{"c":"Cow10","d":17,"v":151},{"c":"Cow10","d":18,"v":159},{"c":"Cow10","d":19,"v":168},{"c":"Cow10","d":20,"v":177},{"c":"Cow10","d":21,"v":186},{"c":"Cow10","d":22,"v":195},{"c":"Cow10","d":23,"v":204},{"c":"Cow10","d":24,"v":213},{"c":"Cow10","d":25,"v":221},{"c":"Cow10","d":26,"v":230},{"c":"Cow10","d":27,"v":239},{"c":"Cow10","d":28,"v":248},{"c":"Cow10","d":29,"v":257},{"c":"Cow10","d":30,"v":266},{"c":"Cow10","d":31,"v":275},{"c":"Cow10","d":32,"v":283},{"c":"Cow10","d":33,"v":292},{"c":"Cow10","d":34,"v":300},{"c":"Cow10","d":35,"v":309},{"c":"Cow10","d":36,"v":318},{"c":"Cow10","d":37,"v":326},{"c":"Cow10","d":38,"v":335},{"c":"Cow10","d":39,"v":343},{"c":"Cow10","d":40,"v":352},{"c":"Cow10","d":41,"v":361},{"c":"Cow10","d":42,"v":369},{"c":"Cow10","d":43,"v":378},{"c":"Cow10","d":44,"v":386},{"c":"Cow10","d":45,"v":395},
      {"c":"Cow15","d":1,"v":9},{"c":"Cow15","d":2,"v":18},{"c":"Cow15","d":3,"v":27},{"c":"Cow15","d":4,"v":36},{"c":"Cow15","d":5,"v":45},{"c":"Cow15","d":6,"v":53},{"c":"Cow15","d":7,"v":62},{"c":"Cow15","d":8,"v":71},{"c":"Cow15","d":9,"v":80},{"c":"Cow15","d":10,"v":89},{"c":"Cow15","d":11,"v":98},{"c":"Cow15","d":12,"v":106},{"c":"Cow15","d":13,"v":115},{"c":"Cow15","d":14,"v":124},{"c":"Cow15","d":15,"v":133},{"c":"Cow15","d":16,"v":142},{"c":"Cow15","d":17,"v":150},{"c":"Cow15","d":18,"v":159},{"c":"Cow15","d":19,"v":168},{"c":"Cow15","d":20,"v":177},{"c":"Cow15","d":21,"v":186},{"c":"Cow15","d":22,"v":195},{"c":"Cow15","d":23,"v":204},{"c":"Cow15","d":24,"v":213},{"c":"Cow15","d":25,"v":221},{"c":"Cow15","d":26,"v":230},{"c":"Cow15","d":27,"v":239},{"c":"Cow15","d":28,"v":248},{"c":"Cow15","d":29,"v":257},{"c":"Cow15","d":30,"v":266},{"c":"Cow15","d":31,"v":275},{"c":"Cow15","d":32,"v":284},{"c":"Cow15","d":33,"v":293},{"c":"Cow15","d":34,"v":302},{"c":"Cow15","d":35,"v":311},{"c":"Cow15","d":36,"v":320},{"c":"Cow15","d":37,"v":329},{"c":"Cow15","d":38,"v":338},{"c":"Cow15","d":39,"v":347},{"c":"Cow15","d":40,"v":356},{"c":"Cow15","d":41,"v":365},{"c":"Cow15","d":42,"v":374},{"c":"Cow15","d":43,"v":383},{"c":"Cow15","d":44,"v":392},{"c":"Cow15","d":45,"v":401},
      {"c":"Cow01","d":1,"v":9},{"c":"Cow01","d":2,"v":18},{"c":"Cow01","d":3,"v":27},{"c":"Cow01","d":4,"v":36},{"c":"Cow01","d":5,"v":44},{"c":"Cow01","d":6,"v":53},{"c":"Cow01","d":7,"v":62},{"c":"Cow01","d":8,"v":71},{"c":"Cow01","d":9,"v":80},{"c":"Cow01","d":10,"v":89},{"c":"Cow01","d":11,"v":98},{"c":"Cow01","d":12,"v":107},{"c":"Cow01","d":13,"v":116},{"c":"Cow01","d":14,"v":125},{"c":"Cow01","d":15,"v":133},{"c":"Cow01","d":16,"v":142},{"c":"Cow01","d":17,"v":151},{"c":"Cow01","d":18,"v":160},{"c":"Cow01","d":19,"v":169},{"c":"Cow01","d":20,"v":178},{"c":"Cow01","d":21,"v":187},{"c":"Cow01","d":22,"v":196},{"c":"Cow01","d":23,"v":205},{"c":"Cow01","d":24,"v":214},{"c":"Cow01","d":25,"v":222},{"c":"Cow01","d":26,"v":231},{"c":"Cow01","d":27,"v":240},{"c":"Cow01","d":28,"v":249},{"c":"Cow01","d":29,"v":258},{"c":"Cow01","d":30,"v":267},{"c":"Cow01","d":31,"v":276},{"c":"Cow01","d":32,"v":285},{"c":"Cow01","d":33,"v":294},{"c":"Cow01","d":34,"v":303},{"c":"Cow01","d":35,"v":312},{"c":"Cow01","d":36,"v":321},{"c":"Cow01","d":37,"v":330},{"c":"Cow01","d":38,"v":339},{"c":"Cow01","d":39,"v":348},{"c":"Cow01","d":40,"v":357},{"c":"Cow01","d":41,"v":366},{"c":"Cow01","d":42,"v":375},{"c":"Cow01","d":43,"v":383},{"c":"Cow01","d":44,"v":392},{"c":"Cow01","d":45,"v":401},
      {"c":"Cow06","d":1,"v":9},{"c":"Cow06","d":2,"v":18},{"c":"Cow06","d":3,"v":27},{"c":"Cow06","d":4,"v":36},{"c":"Cow06","d":5,"v":45},{"c":"Cow06","d":6,"v":54},{"c":"Cow06","d":7,"v":63},{"c":"Cow06","d":8,"v":72},{"c":"Cow06","d":9,"v":81},{"c":"Cow06","d":10,"v":90},{"c":"Cow06","d":11,"v":99},{"c":"Cow06","d":12,"v":108},{"c":"Cow06","d":13,"v":117},{"c":"Cow06","d":14,"v":126},{"c":"Cow06","d":15,"v":134},{"c":"Cow06","d":16,"v":143},{"c":"Cow06","d":17,"v":152},{"c":"Cow06","d":18,"v":161},{"c":"Cow06","d":19,"v":170},{"c":"Cow06","d":20,"v":179},{"c":"Cow06","d":21,"v":188},{"c":"Cow06","d":22,"v":197},{"c":"Cow06","d":23,"v":206},{"c":"Cow06","d":24,"v":215},{"c":"Cow06","d":25,"v":224},{"c":"Cow06","d":26,"v":233},{"c":"Cow06","d":27,"v":242},{"c":"Cow06","d":28,"v":251},{"c":"Cow06","d":29,"v":260},{"c":"Cow06","d":30,"v":269},{"c":"Cow06","d":31,"v":278},{"c":"Cow06","d":32,"v":287},{"c":"Cow06","d":33,"v":296},{"c":"Cow06","d":34,"v":305},{"c":"Cow06","d":35,"v":314},{"c":"Cow06","d":36,"v":323},{"c":"Cow06","d":37,"v":332},{"c":"Cow06","d":38,"v":341},{"c":"Cow06","d":39,"v":350},{"c":"Cow06","d":40,"v":359},{"c":"Cow06","d":41,"v":368},{"c":"Cow06","d":42,"v":377},{"c":"Cow06","d":43,"v":385},{"c":"Cow06","d":44,"v":394},{"c":"Cow06","d":45,"v":403},
      {"c":"Cow03","d":1,"v":9},{"c":"Cow03","d":2,"v":18},{"c":"Cow03","d":3,"v":27},{"c":"Cow03","d":4,"v":36},{"c":"Cow03","d":5,"v":45},{"c":"Cow03","d":6,"v":55},{"c":"Cow03","d":7,"v":64},{"c":"Cow03","d":8,"v":73},{"c":"Cow03","d":9,"v":82},{"c":"Cow03","d":10,"v":91},{"c":"Cow03","d":11,"v":100},{"c":"Cow03","d":12,"v":109},{"c":"Cow03","d":13,"v":118},{"c":"Cow03","d":14,"v":127},{"c":"Cow03","d":15,"v":135},{"c":"Cow03","d":16,"v":144},{"c":"Cow03","d":17,"v":153},{"c":"Cow03","d":18,"v":162},{"c":"Cow03","d":19,"v":171},{"c":"Cow03","d":20,"v":180},{"c":"Cow03","d":21,"v":189},{"c":"Cow03","d":22,"v":198},{"c":"Cow03","d":23,"v":207},{"c":"Cow03","d":24,"v":216},{"c":"Cow03","d":25,"v":225},{"c":"Cow03","d":26,"v":234},{"c":"Cow03","d":27,"v":243},{"c":"Cow03","d":28,"v":252},{"c":"Cow03","d":29,"v":261},{"c":"Cow03","d":30,"v":270},{"c":"Cow03","d":31,"v":279},{"c":"Cow03","d":32,"v":288},{"c":"Cow03","d":33,"v":297},{"c":"Cow03","d":34,"v":306},{"c":"Cow03","d":35,"v":315},{"c":"Cow03","d":36,"v":324},{"c":"Cow03","d":37,"v":333},{"c":"Cow03","d":38,"v":342},{"c":"Cow03","d":39,"v":351},{"c":"Cow03","d":40,"v":360},{"c":"Cow03","d":41,"v":369},{"c":"Cow03","d":42,"v":378},{"c":"Cow03","d":43,"v":386},{"c":"Cow03","d":44,"v":395},{"c":"Cow03","d":45,"v":404},
      {"c":"Cow16","d":1,"v":8},{"c":"Cow16","d":2,"v":17},{"c":"Cow16","d":3,"v":26},{"c":"Cow16","d":4,"v":35},{"c":"Cow16","d":5,"v":44},{"c":"Cow16","d":6,"v":53},{"c":"Cow16","d":7,"v":62},{"c":"Cow16","d":8,"v":71},{"c":"Cow16","d":9,"v":80},{"c":"Cow16","d":10,"v":89},{"c":"Cow16","d":11,"v":98},{"c":"Cow16","d":12,"v":107},{"c":"Cow16","d":13,"v":116},{"c":"Cow16","d":14,"v":125},{"c":"Cow16","d":15,"v":133},{"c":"Cow16","d":16,"v":142},{"c":"Cow16","d":17,"v":151},{"c":"Cow16","d":18,"v":160},{"c":"Cow16","d":19,"v":169},{"c":"Cow16","d":20,"v":178},{"c":"Cow16","d":21,"v":187},{"c":"Cow16","d":22,"v":196},{"c":"Cow16","d":23,"v":206},{"c":"Cow16","d":24,"v":215},{"c":"Cow16","d":25,"v":224},{"c":"Cow16","d":26,"v":233},{"c":"Cow16","d":27,"v":242},{"c":"Cow16","d":28,"v":252},{"c":"Cow16","d":29,"v":261},{"c":"Cow16","d":30,"v":270},{"c":"Cow16","d":31,"v":279},{"c":"Cow16","d":32,"v":288},{"c":"Cow16","d":33,"v":296},{"c":"Cow16","d":34,"v":305},{"c":"Cow16","d":35,"v":314},{"c":"Cow16","d":36,"v":323},{"c":"Cow16","d":37,"v":332},{"c":"Cow16","d":38,"v":340},{"c":"Cow16","d":39,"v":349},{"c":"Cow16","d":40,"v":358},{"c":"Cow16","d":41,"v":366},{"c":"Cow16","d":42,"v":375},{"c":"Cow16","d":43,"v":383},{"c":"Cow16","d":44,"v":392},{"c":"Cow16","d":45,"v":400},
      {"c":"Cow13","d":1,"v":9},{"c":"Cow13","d":2,"v":18},{"c":"Cow13","d":3,"v":27},{"c":"Cow13","d":4,"v":36},{"c":"Cow13","d":5,"v":45},{"c":"Cow13","d":6,"v":54},{"c":"Cow13","d":7,"v":63},{"c":"Cow13","d":8,"v":72},{"c":"Cow13","d":9,"v":81},{"c":"Cow13","d":10,"v":90},{"c":"Cow13","d":11,"v":99},{"c":"Cow13","d":12,"v":108},{"c":"Cow13","d":13,"v":117},{"c":"Cow13","d":14,"v":126},{"c":"Cow13","d":15,"v":135},{"c":"Cow13","d":16,"v":144},{"c":"Cow13","d":17,"v":153},{"c":"Cow13","d":18,"v":162},{"c":"Cow13","d":19,"v":171},{"c":"Cow13","d":20,"v":180},{"c":"Cow13","d":21,"v":189},{"c":"Cow13","d":22,"v":198},{"c":"Cow13","d":23,"v":208},{"c":"Cow13","d":24,"v":217},{"c":"Cow13","d":25,"v":226},{"c":"Cow13","d":26,"v":235},{"c":"Cow13","d":27,"v":244},{"c":"Cow13","d":28,"v":254},{"c":"Cow13","d":29,"v":263},{"c":"Cow13","d":30,"v":272},{"c":"Cow13","d":31,"v":281},{"c":"Cow13","d":32,"v":290},{"c":"Cow13","d":33,"v":300},{"c":"Cow13","d":34,"v":309},{"c":"Cow13","d":35,"v":318},{"c":"Cow13","d":36,"v":327},{"c":"Cow13","d":37,"v":336},{"c":"Cow13","d":38,"v":346},{"c":"Cow13","d":39,"v":355},{"c":"Cow13","d":40,"v":364},{"c":"Cow13","d":41,"v":373},{"c":"Cow13","d":42,"v":383},{"c":"Cow13","d":43,"v":392},{"c":"Cow13","d":44,"v":402},{"c":"Cow13","d":45,"v":411},
      {"c":"Cow02","d":1,"v":9},{"c":"Cow02","d":2,"v":18},{"c":"Cow02","d":3,"v":27},{"c":"Cow02","d":4,"v":36},{"c":"Cow02","d":5,"v":46},{"c":"Cow02","d":6,"v":55},{"c":"Cow02","d":7,"v":64},{"c":"Cow02","d":8,"v":73},{"c":"Cow02","d":9,"v":82},{"c":"Cow02","d":10,"v":91},{"c":"Cow02","d":11,"v":100},{"c":"Cow02","d":12,"v":109},{"c":"Cow02","d":13,"v":118},{"c":"Cow02","d":14,"v":127},{"c":"Cow02","d":15,"v":136},{"c":"Cow02","d":16,"v":145},{"c":"Cow02","d":17,"v":154},{"c":"Cow02","d":18,"v":163},{"c":"Cow02","d":19,"v":172},{"c":"Cow02","d":20,"v":181},{"c":"Cow02","d":21,"v":190},{"c":"Cow02","d":22,"v":199},{"c":"Cow02","d":23,"v":208},{"c":"Cow02","d":24,"v":217},{"c":"Cow02","d":25,"v":226},{"c":"Cow02","d":26,"v":235},{"c":"Cow02","d":27,"v":244},{"c":"Cow02","d":28,"v":253},{"c":"Cow02","d":29,"v":262},{"c":"Cow02","d":30,"v":271},{"c":"Cow02","d":31,"v":280},{"c":"Cow02","d":32,"v":289},{"c":"Cow02","d":33,"v":298},{"c":"Cow02","d":34,"v":307},{"c":"Cow02","d":35,"v":317},{"c":"Cow02","d":36,"v":326},{"c":"Cow02","d":37,"v":335},{"c":"Cow02","d":38,"v":344},{"c":"Cow02","d":39,"v":353},{"c":"Cow02","d":40,"v":362},{"c":"Cow02","d":41,"v":371},{"c":"Cow02","d":42,"v":380},{"c":"Cow02","d":43,"v":389},{"c":"Cow02","d":44,"v":398},{"c":"Cow02","d":45,"v":407},
      {"c":"Cow07","d":1,"v":9},{"c":"Cow07","d":2,"v":18},{"c":"Cow07","d":3,"v":27},{"c":"Cow07","d":4,"v":37},{"c":"Cow07","d":5,"v":46},{"c":"Cow07","d":6,"v":55},{"c":"Cow07","d":7,"v":64},{"c":"Cow07","d":8,"v":73},{"c":"Cow07","d":9,"v":82},{"c":"Cow07","d":10,"v":91},{"c":"Cow07","d":11,"v":100},{"c":"Cow07","d":12,"v":109},{"c":"Cow07","d":13,"v":118},{"c":"Cow07","d":14,"v":127},{"c":"Cow07","d":15,"v":137},{"c":"Cow07","d":16,"v":146},{"c":"Cow07","d":17,"v":155},{"c":"Cow07","d":18,"v":164},{"c":"Cow07","d":19,"v":173},{"c":"Cow07","d":20,"v":182},{"c":"Cow07","d":21,"v":191},{"c":"Cow07","d":22,"v":200},{"c":"Cow07","d":23,"v":209},{"c":"Cow07","d":24,"v":218},{"c":"Cow07","d":25,"v":227},{"c":"Cow07","d":26,"v":236},{"c":"Cow07","d":27,"v":245},{"c":"Cow07","d":28,"v":254},{"c":"Cow07","d":29,"v":263},{"c":"Cow07","d":30,"v":272},{"c":"Cow07","d":31,"v":281},{"c":"Cow07","d":32,"v":290},{"c":"Cow07","d":33,"v":299},{"c":"Cow07","d":34,"v":308},{"c":"Cow07","d":35,"v":318},{"c":"Cow07","d":36,"v":327},{"c":"Cow07","d":37,"v":336},{"c":"Cow07","d":38,"v":345},{"c":"Cow07","d":39,"v":354},{"c":"Cow07","d":40,"v":363},{"c":"Cow07","d":41,"v":372},{"c":"Cow07","d":42,"v":381},{"c":"Cow07","d":43,"v":390},{"c":"Cow07","d":44,"v":399},{"c":"Cow07","d":45,"v":408},
      {"c":"Cow04","d":1,"v":10},{"c":"Cow04","d":2,"v":19},{"c":"Cow04","d":3,"v":28},{"c":"Cow04","d":4,"v":37},{"c":"Cow04","d":5,"v":46},{"c":"Cow04","d":6,"v":56},{"c":"Cow04","d":7,"v":65},{"c":"Cow04","d":8,"v":74},{"c":"Cow04","d":9,"v":83},{"c":"Cow04","d":10,"v":92},{"c":"Cow04","d":11,"v":101},{"c":"Cow04","d":12,"v":110},{"c":"Cow04","d":13,"v":119},{"c":"Cow04","d":14,"v":128},{"c":"Cow04","d":15,"v":138},{"c":"Cow04","d":16,"v":147},{"c":"Cow04","d":17,"v":156},{"c":"Cow04","d":18,"v":165},{"c":"Cow04","d":19,"v":174},{"c":"Cow04","d":20,"v":183},{"c":"Cow04","d":21,"v":192},{"c":"Cow04","d":22,"v":201},{"c":"Cow04","d":23,"v":210},{"c":"Cow04","d":24,"v":219},{"c":"Cow04","d":25,"v":227},{"c":"Cow04","d":26,"v":236},{"c":"Cow04","d":27,"v":245},{"c":"Cow04","d":28,"v":254},{"c":"Cow04","d":29,"v":263},{"c":"Cow04","d":30,"v":272},{"c":"Cow04","d":31,"v":281},{"c":"Cow04","d":32,"v":290},{"c":"Cow04","d":33,"v":299},{"c":"Cow04","d":34,"v":308},{"c":"Cow04","d":35,"v":318},{"c":"Cow04","d":36,"v":327},{"c":"Cow04","d":37,"v":336},{"c":"Cow04","d":38,"v":345},{"c":"Cow04","d":39,"v":354},{"c":"Cow04","d":40,"v":363},{"c":"Cow04","d":41,"v":372},{"c":"Cow04","d":42,"v":381},{"c":"Cow04","d":43,"v":390},{"c":"Cow04","d":44,"v":399},{"c":"Cow04","d":45,"v":408},
      {"c":"Cow05","d":1,"v":10},{"c":"Cow05","d":2,"v":19},{"c":"Cow05","d":3,"v":28},{"c":"Cow05","d":4,"v":37},{"c":"Cow05","d":5,"v":47},{"c":"Cow05","d":6,"v":56},{"c":"Cow05","d":7,"v":65},{"c":"Cow05","d":8,"v":74},{"c":"Cow05","d":9,"v":83},{"c":"Cow05","d":10,"v":92},{"c":"Cow05","d":11,"v":101},{"c":"Cow05","d":12,"v":110},{"c":"Cow05","d":13,"v":119},{"c":"Cow05","d":14,"v":128},{"c":"Cow05","d":15,"v":137},{"c":"Cow05","d":16,"v":146},{"c":"Cow05","d":17,"v":155},{"c":"Cow05","d":18,"v":164},{"c":"Cow05","d":19,"v":173},{"c":"Cow05","d":20,"v":182},{"c":"Cow05","d":21,"v":191},{"c":"Cow05","d":22,"v":200},{"c":"Cow05","d":23,"v":209},{"c":"Cow05","d":24,"v":218},{"c":"Cow05","d":25,"v":228},{"c":"Cow05","d":26,"v":237},{"c":"Cow05","d":27,"v":246},{"c":"Cow05","d":28,"v":255},{"c":"Cow05","d":29,"v":264},{"c":"Cow05","d":30,"v":273},{"c":"Cow05","d":31,"v":282},{"c":"Cow05","d":32,"v":291},{"c":"Cow05","d":33,"v":300},{"c":"Cow05","d":34,"v":309},{"c":"Cow05","d":35,"v":318},{"c":"Cow05","d":36,"v":327},{"c":"Cow05","d":37,"v":336},{"c":"Cow05","d":38,"v":345},{"c":"Cow05","d":39,"v":354},{"c":"Cow05","d":40,"v":363},{"c":"Cow05","d":41,"v":372},{"c":"Cow05","d":42,"v":381},{"c":"Cow05","d":43,"v":391},{"c":"Cow05","d":44,"v":400},{"c":"Cow05","d":45,"v":409},
      {"c":"Cow12","d":1,"v":9},{"c":"Cow12","d":2,"v":18},{"c":"Cow12","d":3,"v":27},{"c":"Cow12","d":4,"v":37},{"c":"Cow12","d":5,"v":46},{"c":"Cow12","d":6,"v":55},{"c":"Cow12","d":7,"v":64},{"c":"Cow12","d":8,"v":74},{"c":"Cow12","d":9,"v":83},{"c":"Cow12","d":10,"v":92},{"c":"Cow12","d":11,"v":101},{"c":"Cow12","d":12,"v":110},{"c":"Cow12","d":13,"v":119},{"c":"Cow12","d":14,"v":128},{"c":"Cow12","d":15,"v":138},{"c":"Cow12","d":16,"v":147},{"c":"Cow12","d":17,"v":156},{"c":"Cow12","d":18,"v":165},{"c":"Cow12","d":19,"v":174},{"c":"Cow12","d":20,"v":183},{"c":"Cow12","d":21,"v":192},{"c":"Cow12","d":22,"v":202},{"c":"Cow12","d":23,"v":211},{"c":"Cow12","d":24,"v":220},{"c":"Cow12","d":25,"v":230},{"c":"Cow12","d":26,"v":239},{"c":"Cow12","d":27,"v":248},{"c":"Cow12","d":28,"v":257},{"c":"Cow12","d":29,"v":267},{"c":"Cow12","d":30,"v":276},{"c":"Cow12","d":31,"v":285},{"c":"Cow12","d":32,"v":295},{"c":"Cow12","d":33,"v":304},{"c":"Cow12","d":34,"v":314},{"c":"Cow12","d":35,"v":323},{"c":"Cow12","d":36,"v":333},{"c":"Cow12","d":37,"v":342},{"c":"Cow12","d":38,"v":351},{"c":"Cow12","d":39,"v":361},{"c":"Cow12","d":40,"v":370},{"c":"Cow12","d":41,"v":379},{"c":"Cow12","d":42,"v":387},{"c":"Cow12","d":43,"v":396},{"c":"Cow12","d":44,"v":404},{"c":"Cow12","d":45,"v":415},
      {"c":"Cow09","d":1,"v":9},{"c":"Cow09","d":2,"v":18},{"c":"Cow09","d":3,"v":28},{"c":"Cow09","d":4,"v":37},{"c":"Cow09","d":5,"v":46},{"c":"Cow09","d":6,"v":56},{"c":"Cow09","d":7,"v":65},{"c":"Cow09","d":8,"v":74},{"c":"Cow09","d":9,"v":84},{"c":"Cow09","d":10,"v":93},{"c":"Cow09","d":11,"v":103},{"c":"Cow09","d":12,"v":113},{"c":"Cow09","d":13,"v":123},{"c":"Cow09","d":14,"v":133},{"c":"Cow09","d":15,"v":143},{"c":"Cow09","d":16,"v":152},{"c":"Cow09","d":17,"v":162},{"c":"Cow09","d":18,"v":172},{"c":"Cow09","d":19,"v":181},{"c":"Cow09","d":20,"v":191},{"c":"Cow09","d":21,"v":200},{"c":"Cow09","d":22,"v":209},{"c":"Cow09","d":23,"v":217},{"c":"Cow09","d":24,"v":226},{"c":"Cow09","d":25,"v":235},{"c":"Cow09","d":26,"v":244},{"c":"Cow09","d":27,"v":253},{"c":"Cow09","d":28,"v":261},{"c":"Cow09","d":29,"v":270},{"c":"Cow09","d":30,"v":279},{"c":"Cow09","d":31,"v":288},{"c":"Cow09","d":32,"v":297},{"c":"Cow09","d":33,"v":306},{"c":"Cow09","d":34,"v":316},{"c":"Cow09","d":35,"v":325},{"c":"Cow09","d":36,"v":334},{"c":"Cow09","d":37,"v":343},{"c":"Cow09","d":38,"v":352},{"c":"Cow09","d":39,"v":360},{"c":"Cow09","d":40,"v":369},{"c":"Cow09","d":41,"v":377},{"c":"Cow09","d":42,"v":386},{"c":"Cow09","d":43,"v":394},{"c":"Cow09","d":44,"v":403},{"c":"Cow09","d":45,"v":411}
    ]
  },
  "vconcat": [
    {
      "name": "p4",
      "title": {"text": "Random 4"},
      "width": 2412,
      "height": 1712,
      "data": {"name": "r4"},
      "encoding": {
        "x": {
          "field": "d", "type": "quantitative",
          "scale": {"domain": [-0.08, 46.07], "nice": false, "zero": false},
          "axis": {
            "title": "Number of days", "values": [0, 5, 10, 15, 20, 25, 30, 35, 40, 45],
            "labelExpr": "datum.value % 10 === 0 ? datum.label : ''",
            "tickOpacity": {"condition": {"test": "datum.value % 10 !== 0", "value": 0}, "value": 1},
            "gridWidth": {"condition": {"test": "datum.value % 10 === 0", "value": 5}, "value": 2.6},
            "tickSize": 15, "labelPadding": -1.5, "titlePadding": 6, "labelFlush": false, "labelOverlap": false
          }
        },
        "y": {
          "field": "v", "type": "quantitative",
          "scale": {"domain": [-13.6, 439.3], "nice": false, "zero": false},
          "axis": {
            "title": "Cumulative rank", "values": [0, 50, 100, 150, 200, 250, 300, 350, 400],
            "labelExpr": "datum.value % 100 === 0 ? datum.label : ''",
            "tickOpacity": {"condition": {"test": "datum.value % 100 !== 0", "value": 0}, "value": 1},
            "gridWidth": {"condition": {"test": "datum.value % 100 === 0", "value": 5}, "value": 2.6},
            "labelPadding": 15, "titlePadding": 15, "labelOverlap": false
          }
        }
      },
      "layer": [
        {
          "mark": {"type": "line", "strokeWidth": 5},
          "encoding": {
            "color": {
              "field": "c", "type": "nominal",
              "sort": ["Cow16","Cow08","Cow14","Cow09","Cow12","Cow07","Cow10","Cow06","Cow01","Cow05","Cow03","Cow15","Cow04","Cow13","Cow02","Cow17","Cow11"],
              "scale": {
                "range": ["#FF61C7","#00C086","#D077FE","#00C0B1","#35A2FF","#00BC51","#00BDD5","#39B600","#F8766D","#86AC00","#D09400","#F066EA","#B1A100","#9B8DFF","#E8851E","#FF699F","#00B3F2"]
              },
              "legend": {
                "orient": "none", "legendX": 2529, "legendY": -88,
                "title": "Cow ID:", "titleFontSize": 86, "titlePadding": 164.5, "titleLimit": 2000,
                "labelExpr": "''", "labelFontSize": 65,
                "symbolType": "M-1.18,-1L1.18,-1L1.18,1L-1.18,1Z", "symbolSize": 9006, "symbolStrokeWidth": 0, "rowPadding": 0,
                "encode": {"symbols": {"update": {"fill": {"value": "#EBEBEB"}, "stroke": {"value": "#EBEBEB"}, "opacity": {"value": 1}}}}
              }
            }
          }
        },
        {
          "mark": {"type": "point", "filled": true, "size": 380, "opacity": 1},
          "encoding": {
            "fill": {
              "field": "c", "type": "nominal",
              "scale": {
                "domain": ["Cow16","Cow08","Cow14","Cow09","Cow12","Cow07","Cow10","Cow06","Cow01","Cow05","Cow03","Cow15","Cow04","Cow13","Cow02","Cow17","Cow11"],
                "range": ["#FF61C7","#00C086","#D077FE","#00C0B1","#35A2FF","#00BC51","#00BDD5","#39B600","#F8766D","#86AC00","#D09400","#F066EA","#B1A100","#9B8DFF","#E8851E","#FF699F","#00B3F2"]
              },
              "legend": {
                "orient": "none", "legendX": 2521, "legendY": 8,
                "title": ["Sorted from lowest cumulative", "rank to highest"], "titleFontSize": 66, "titleLineHeight": 74, "titlePadding": 3, "titleLimit": 2000,
                "labelFontSize": 65, "labelOffset": 36, "labelLimit": 600,
                "symbolType": "M-0.8,-0.044L0.8,-0.044L0.8,0.044L-0.8,0.044Z M0.186,0A0.186,0.186 0 1,1 -0.186,0A0.186,0.186 0 1,1 0.186,0Z",
                "symbolSize": 12805, "symbolStrokeWidth": 0, "symbolOpacity": 1, "rowPadding": 4.9
              }
            }
          }
        }
      ]
    },
    {
      "name": "p5",
      "title": {"text": "Random 5"},
      "width": 2412,
      "height": 1712,
      "data": {"name": "r5"},
      "encoding": {
        "x": {
          "field": "d", "type": "quantitative",
          "scale": {"domain": [-0.08, 46.07], "nice": false, "zero": false},
          "axis": {
            "title": "Number of days", "values": [0, 5, 10, 15, 20, 25, 30, 35, 40, 45],
            "labelExpr": "datum.value % 10 === 0 ? datum.label : ''",
            "tickOpacity": {"condition": {"test": "datum.value % 10 !== 0", "value": 0}, "value": 1},
            "gridWidth": {"condition": {"test": "datum.value % 10 === 0", "value": 5}, "value": 2.6},
            "tickSize": 15, "labelPadding": -1.5, "titlePadding": 6, "labelFlush": false, "labelOverlap": false
          }
        },
        "y": {
          "field": "v", "type": "quantitative",
          "scale": {"domain": [-12.3, 435.5], "nice": false, "zero": false},
          "axis": {
            "title": "Cumulative rank", "values": [0, 50, 100, 150, 200, 250, 300, 350, 400],
            "labelExpr": "datum.value % 100 === 0 ? datum.label : ''",
            "tickOpacity": {"condition": {"test": "datum.value % 100 !== 0", "value": 0}, "value": 1},
            "gridWidth": {"condition": {"test": "datum.value % 100 === 0", "value": 5}, "value": 2.6},
            "labelPadding": 15, "titlePadding": 15, "labelOverlap": false
          }
        }
      },
      "layer": [
        {
          "mark": {"type": "line", "strokeWidth": 5},
          "encoding": {
            "color": {
              "field": "c", "type": "nominal",
              "sort": ["Cow17","Cow08","Cow11","Cow14","Cow10","Cow15","Cow01","Cow06","Cow03","Cow16","Cow13","Cow02","Cow07","Cow04","Cow05","Cow12","Cow09"],
              "scale": {
                "range": ["#FF699F","#00C086","#00B3F2","#D077FE","#00BDD5","#F066EA","#F8766D","#39B600","#D09400","#FF61C7","#9B8DFF","#E8851E","#00BC51","#B1A100","#86AC00","#35A2FF","#00C0B1"]
              },
              "legend": {
                "orient": "none", "legendX": 2529, "legendY": -88,
                "title": "Cow ID:", "titleFontSize": 86, "titlePadding": 164.5, "titleLimit": 2000,
                "labelExpr": "''", "labelFontSize": 65,
                "symbolType": "M-1.18,-1L1.18,-1L1.18,1L-1.18,1Z", "symbolSize": 9006, "symbolStrokeWidth": 0, "rowPadding": 0,
                "encode": {"symbols": {"update": {"fill": {"value": "#EBEBEB"}, "stroke": {"value": "#EBEBEB"}, "opacity": {"value": 1}}}}
              }
            }
          }
        },
        {
          "mark": {"type": "point", "filled": true, "size": 380, "opacity": 1},
          "encoding": {
            "fill": {
              "field": "c", "type": "nominal",
              "scale": {
                "domain": ["Cow17","Cow08","Cow11","Cow14","Cow10","Cow15","Cow01","Cow06","Cow03","Cow16","Cow13","Cow02","Cow07","Cow04","Cow05","Cow12","Cow09"],
                "range": ["#FF699F","#00C086","#00B3F2","#D077FE","#00BDD5","#F066EA","#F8766D","#39B600","#D09400","#FF61C7","#9B8DFF","#E8851E","#00BC51","#B1A100","#86AC00","#35A2FF","#00C0B1"]
              },
              "legend": {
                "orient": "none", "legendX": 2521, "legendY": 8,
                "title": ["Sorted from lowest cumulative", "rank to highest"], "titleFontSize": 66, "titleLineHeight": 74, "titlePadding": 3, "titleLimit": 2000,
                "labelFontSize": 65, "labelOffset": 36, "labelLimit": 600,
                "symbolType": "M-0.8,-0.044L0.8,-0.044L0.8,0.044L-0.8,0.044Z M0.186,0A0.186,0.186 0 1,1 -0.186,0A0.186,0.186 0 1,1 0.186,0Z",
                "symbolSize": 12805, "symbolStrokeWidth": 0, "symbolOpacity": 1, "rowPadding": 4.9
              }
            }
          }
        }
      ]
    }
  ]
}
